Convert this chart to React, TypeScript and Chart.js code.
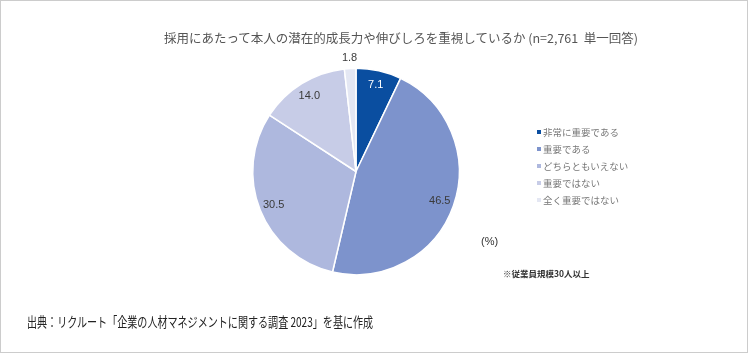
import React, { useEffect, useRef } from "react";
import { Chart, registerables } from "chart.js";

Chart.register(...registerables);

const titleText = "採用にあたって本人の潜在的成長力や伸びしろを重視しているか (n=2,761\u00a0\u00a0単一回答)";
const categories = ["非常に重要である", "重要である", "どちらともいえない", "重要ではない", "全く重要ではない"];
const values = [7.1, 46.5, 30.5, 14.0, 1.8];
const colors = ["#0A4EA0", "#7D93CC", "#AEB8DE", "#C7CCE7", "#E4E7F3"];
const labelColors = ["#FFFFFF", "#3A3A3A", "#3A3A3A", "#3A3A3A", "#3A3A3A"];
const unitText = "(%)";
const noteText = "※従業員規模30人以上";
const sourceText = "出典：リクルート「企業の人材マネジメントに関する調査 2023」を基に作成";

const JP = '"Noto Sans CJK JP", "Noto Sans", sans-serif';

const valueLabelPlugin = {
  id: "valueLabels",
  afterDatasetsDraw(chart: any) {
    const ctx = chart.ctx;
    const meta = chart.getDatasetMeta(0);
    ctx.save();
    ctx.font = '11px "Liberation Sans", Arial, sans-serif';
    ctx.textAlign = "center";
    ctx.textBaseline = "middle";
    meta.data.forEach((arc: any, i: number) => {
      const p = arc.getProps(["x", "y", "startAngle", "endAngle", "outerRadius"], true);
      const mid = (p.startAngle + p.endAngle) / 2;
      const v = values[i];
      const f = v < 3 ? 1.1 : 0.86;
      const x = p.x + Math.cos(mid) * p.outerRadius * f;
      const y = p.y + Math.sin(mid) * p.outerRadius * f;
      ctx.fillStyle = labelColors[i];
      ctx.fillText(v.toFixed(1), x, y);
    });
    ctx.restore();
  },
};

export default function App() {
  const ref = useRef<HTMLCanvasElement>(null);
  useEffect(() => {
    if (!ref.current) return;
    const chart = new Chart(ref.current, {
      type: "pie",
      data: {
        labels: categories,
        datasets: [
          {
            data: values,
            backgroundColor: colors,
            borderColor: "#FFFFFF",
            borderWidth: 1.5,
          },
        ],
      },
      options: {
        responsive: false,
        animation: false,
        layout: { padding: { left: 252, right: 288, top: 67, bottom: 77 } },
        plugins: {
          legend: { display: false },
          tooltip: { enabled: false },
          title: { display: false },
        },
      },
      plugins: [valueLabelPlugin],
    });
    return () => chart.destroy();
  }, []);

  return (
    <div
      style={{
        position: "absolute",
        left: 0,
        top: 0,
        width: 748,
        height: 353,
        background: "#fff",
        border: "1px solid #CCCCCC",
        boxSizing: "border-box",
        overflow: "hidden",
        fontFamily: JP,
      }}
    >
      <canvas ref={ref} width={748} height={353} style={{ position: "absolute", left: -1, top: -1 }} />
      <div
        style={{
          position: "absolute",
          left: 0,
          width: 800,
          top: 28,
          textAlign: "center",
          fontSize: 12.5,
          lineHeight: "18px",
          color: "#555",
          whiteSpace: "nowrap",
        }}
      >
        {titleText}
      </div>
      {categories.map((c, i) => (
        <div
          key={c}
          style={{
            position: "absolute",
            left: 536,
            top: 130.5 + i * 17.2 - 8,
            height: 16,
            display: "flex",
            alignItems: "center",
            fontSize: 9.5,
            color: "#777",
            whiteSpace: "nowrap",
          }}
        >
          <span style={{ display: "inline-block", width: 4, height: 4, background: colors[i], marginRight: 2 }} />
          <span>{c}</span>
        </div>
      ))}
      <div style={{ position: "absolute", left: 480, top: 232, fontSize: 11, color: "#333", fontFamily: '"Liberation Sans", Arial, sans-serif', lineHeight: "16px" }}>
        {unitText}
      </div>
      <div style={{ position: "absolute", left: 502, top: 265, fontSize: 8.5, color: "#333", fontWeight: 700, lineHeight: "14px", whiteSpace: "nowrap" }}>
        {noteText}
      </div>
      <div
        style={{
          position: "absolute",
          left: 26,
          top: 311,
          fontSize: 13.5,
          color: "#222",
          lineHeight: "18px",
          whiteSpace: "nowrap",
          transform: "scaleX(0.745)",
          transformOrigin: "0 50%",
        }}
      >
        {sourceText}
      </div>
    </div>
  );
}
